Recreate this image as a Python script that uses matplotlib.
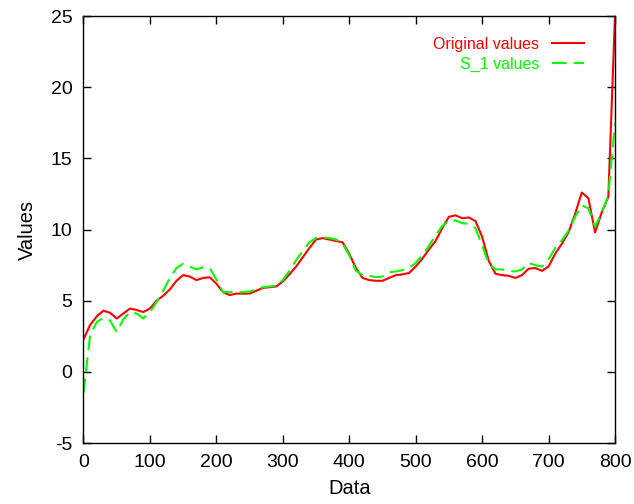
import numpy as np
import matplotlib
matplotlib.use("Agg")
import matplotlib.pyplot as plt

plt.rcParams["font.family"] = ["Liberation Sans", "DejaVu Sans"]
plt.rcParams["axes.unicode_minus"] = False

x = np.arange(0, 801, 10)
original = [
    2.3, 3.3, 3.9, 4.3, 4.15, 3.75, 4.1, 4.45, 4.35, 4.2,
    4.45, 5.0, 5.35, 5.8, 6.4, 6.8, 6.7, 6.45, 6.6, 6.65,
    6.2, 5.6, 5.4, 5.5, 5.5, 5.5, 5.7, 5.9, 5.95, 6.0,
    6.35, 6.85, 7.4, 8.05, 8.7, 9.3, 9.4, 9.3, 9.2, 9.1,
    8.3, 7.3, 6.6, 6.45, 6.4, 6.4, 6.6, 6.8, 6.85, 6.95,
    7.4, 7.95, 8.6, 9.2, 10.1, 10.9, 11.0, 10.8, 10.85, 10.6,
    9.5, 7.8, 6.9, 6.8, 6.75, 6.6, 6.8, 7.25, 7.3, 7.1,
    7.4, 8.3, 9.0, 9.8, 11.1, 12.6, 12.2, 9.8, 11.2, 12.3,
    25.0,
]
s1 = [
    -1.5, 2.6, 3.5, 3.8, 3.6, 2.8, 3.7, 4.2, 4.1, 3.75,
    4.2, 4.9, 5.7, 6.6, 7.3, 7.6, 7.4, 7.2, 7.35, 7.3,
    6.5, 5.6, 5.6, 5.6, 5.6, 5.65, 5.8, 5.95, 6.0, 6.05,
    6.45, 7.1, 7.85, 8.5, 9.1, 9.4, 9.45, 9.4, 9.3, 9.0,
    8.2, 7.1, 6.8, 6.75, 6.65, 6.7, 7.0, 7.05, 7.15, 7.3,
    7.65, 8.2, 8.85, 9.6, 10.25, 10.6, 10.65, 10.45, 10.4, 10.1,
    8.9, 7.6, 7.2, 7.2, 7.1, 7.05, 7.2, 7.65, 7.5, 7.4,
    7.9, 8.7, 9.25, 9.9, 10.9, 11.7, 11.5, 10.2, 11.2, 12.4,
    17.5,
]

fig = plt.figure(figsize=(6.34, 5.04), dpi=100)
ax = fig.add_axes([0.1317, 0.121, 0.8383, 0.847])

ax.plot(x, original, color="#ff0000", lw=1.5, label="Original values")
ax.plot(x, s1, color="#00ff00", lw=1.5, dashes=(7, 3.4), label="S_1 values")

ax.set_xlim(0, 800)
ax.set_ylim(-5, 25)
ax.set_xticks(range(0, 801, 100))
ax.set_yticks(range(-5, 26, 5))
ax.tick_params(direction="in", length=6, width=1, top=True, right=True,
               labelsize=14, pad=8)
for sp in ax.spines.values():
    sp.set_linewidth(1)
ax.set_xlabel("Data", fontsize=14.5, labelpad=6)
ax.set_ylabel("Values", fontsize=14.5, labelpad=10)

leg = ax.legend(loc="upper right", bbox_to_anchor=(0.954, 0.966), frameon=False,
                markerfirst=False, labelcolor="linecolor", fontsize=11.5,
                handlelength=2.0, handletextpad=0.8, labelspacing=0.3,
                borderaxespad=0)
for t in leg.get_texts():
    t.set_ha("right")

fig.savefig("out.png", dpi=100)
